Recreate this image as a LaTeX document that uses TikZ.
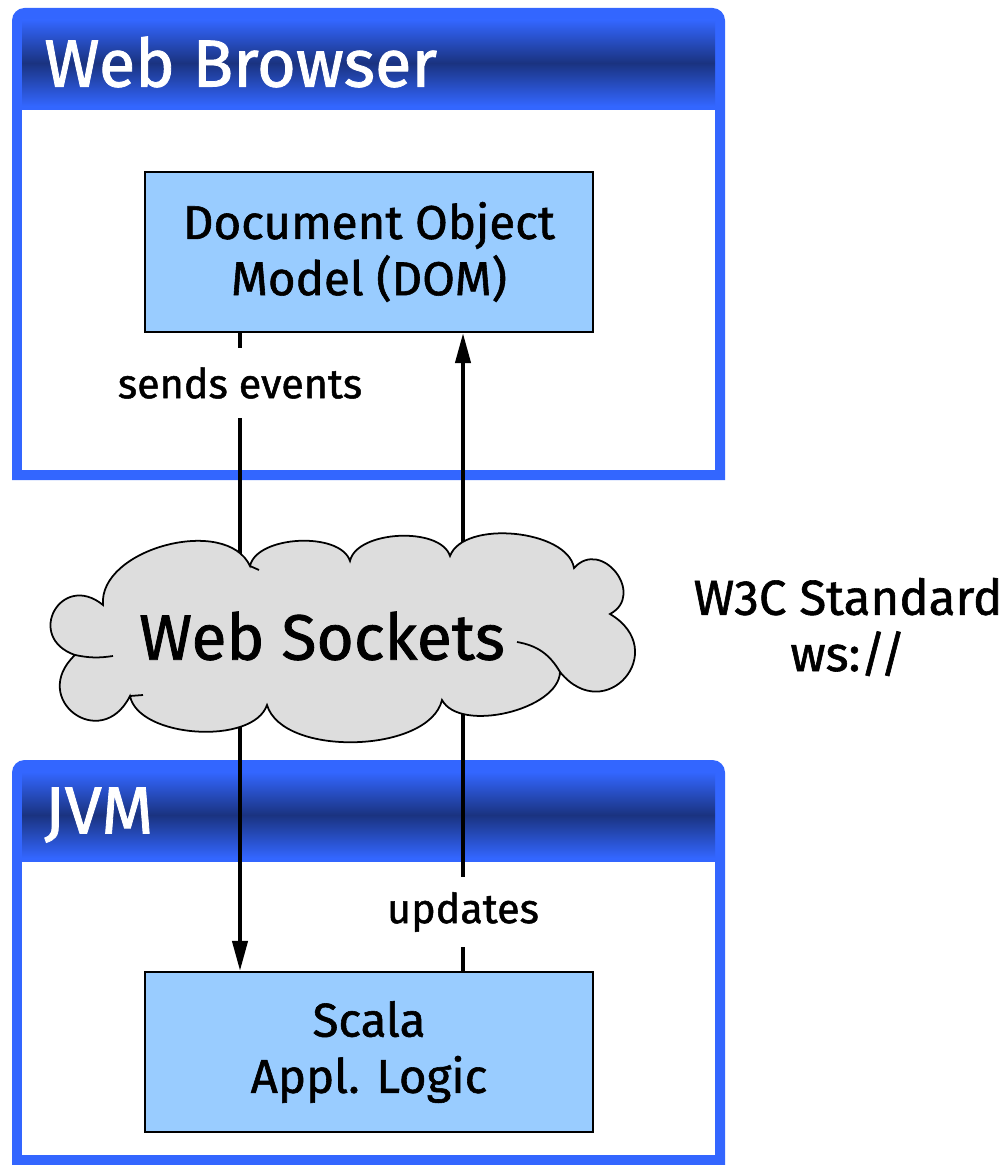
\documentclass[tikz,border=0pt]{standalone}
\usepackage{fontspec}
\setmainfont{Fira Sans}[FakeBold=1.2]
\usetikzlibrary{arrows.meta}
\definecolor{frameblue}{HTML}{3366FF}
\definecolor{darkblue}{HTML}{1A3380}
\definecolor{boxblue}{HTML}{99CCFF}
\definecolor{cloudgray}{HTML}{DDDDDD}
\begin{document}
\begin{tikzpicture}[x=0.02cm,y=-0.02cm,
		mybox/.style={draw=black,line width=1.2pt,fill=boxblue,minimum width=8.96cm,minimum height=3.2cm,align=center,font=\fontsize{27}{32}\selectfont},
		mytitle/.style={text=white,anchor=west,inner sep=0pt,font=\fontsize{38}{40}\selectfont},
		mylabel/.style={inner sep=0pt,minimum height=1.4cm,font=\fontsize{23.5}{26}\selectfont},
		myline/.style={line width=2.3pt},
		myarrow/.style={myline,-{Triangle[length=0.6cm,width=0.3cm]}},
		flatpuff/.style={bend left=75,looseness=0.8},
		roundpuff/.style={bend left=100,looseness=2.4}
		]
		\useasboundingbox (0,0) rectangle (1005,1165);
		% web browser frame
		\fill[frameblue] (12,480) [rounded corners=0.25cm] -- (12,8) -- (725,8) [sharp corners] -- (725,480) -- cycle;
		\shade[top color=frameblue,bottom color=frameblue,middle color=darkblue] (22,20) rectangle (715,106);
		\fill[white] (22,110) rectangle (715,470);
		\node[mytitle] (browser) at (44,62) {Web Browser};
		% jvm frame
		\fill[frameblue] (12,1165) [rounded corners=0.25cm] -- (12,760) -- (725,760) [sharp corners] -- (725,1165) -- cycle;
		\shade[top color=frameblue,bottom color=frameblue,middle color=darkblue] (22,772) rectangle (715,858);
		\fill[white] (22,862) rectangle (715,1155);
		\node[mytitle] (jvm) at (44,815) {JVM};
		%%%%%%%%%%%%%%%
		\node[mybox] (dom) at (369,252) {Document Object\\Model (DOM)};
		\node[mybox] (scala) at (369,1052) {Scala\\Appl. Logic};
		\node[mylabel] (sends) at (240,383) {sends events};
		\node[mylabel] (updates) at (463,912) {updates};
		\node[align=center,font=\fontsize{28}{32}\selectfont] (w3c) at (848,627) {W3C Standard\\ws://};
		%%%%%%%%%%%%%%%
		\draw[myline] (dom.south -| sends) -- (sends);
		\draw[myarrow] (sends) -- (scala.north -| sends);
		\draw[myline] (scala.north -| updates) -- (updates);
		\draw[myarrow] (updates) -- (dom.south -| updates);
		% cloud on top of the lines
		\filldraw[fill=cloudgray,draw=black,line width=1pt] (103,605) to[bend left=80,looseness=0.95] (250,566) to[flatpuff] (350,561)
			to[flatpuff] (450,556) to[flatpuff] (574,568) to[roundpuff,looseness=1.8] (610,614) to[roundpuff] (560,672)
			to[flatpuff] (442,700) to[flatpuff] (267,705) to[flatpuff] (130,696) to[roundpuff] (75,655)
			to[roundpuff] (103,605) -- cycle;
		\draw[line width=1pt] (75,655) to[bend right=10] (113,656);
		\draw[line width=1pt] (130,696) -- (143,695);
		\draw[line width=1pt] (517,642) to[bend left=25] (560,672);
		\draw[line width=1pt] (250,566) -- (259,570);
		\node[font=\fontsize{36.5}{40}\selectfont] (sockets) at (322,636) {Web Sockets};
	\end{tikzpicture}
\end{document}
